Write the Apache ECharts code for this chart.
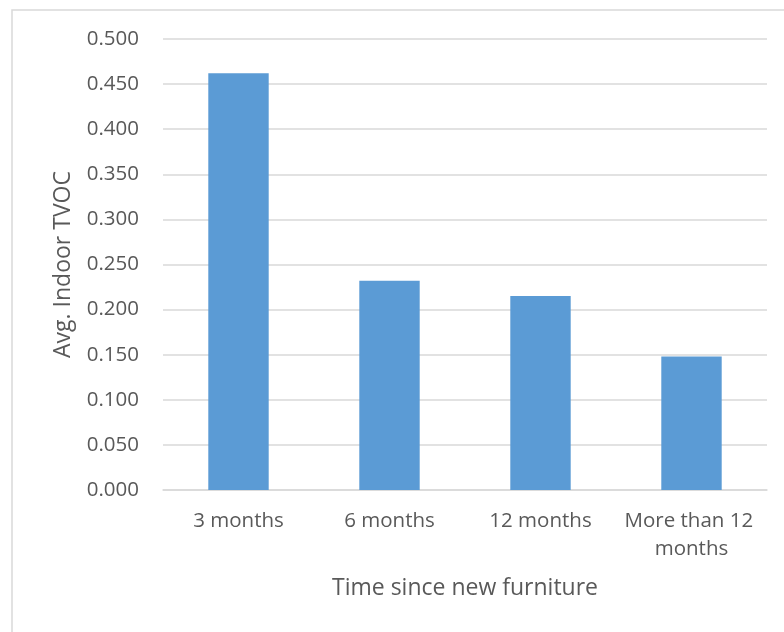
<!DOCTYPE html>
<html>
<head>
<meta charset="utf-8">
<script src="https://cdn.jsdelivr.net/npm/echarts@6/dist/echarts.min.js"></script>
<style>
  html, body { margin: 0; padding: 0; background: #fff; }
  #chart { width: 784px; height: 632px; }
</style>
</head>
<body>
<div id="chart"></div>
<script>
// data
const categories = ['3 months', '6 months', '12 months', 'More than 12 months'];
const tvocValues = [0.462, 0.232, 0.215, 0.148];
const yTicks = { min: 0, max: 0.5, interval: 0.05 };

const labelFont = '"Open Sans", "Liberation Sans", sans-serif';
const textColor = '#595959';
const gridColor = '#d9d9d9';

const chart = echarts.init(document.getElementById('chart'));

const option = {
  backgroundColor: '#fff',
  animation: false,
  grid: { left: 163, right: 17, top: 39, bottom: 142 },
  graphic: [
    {
      // outer chart frame, runs off the right and bottom edge
      type: 'rect',
      shape: { x: 12, y: 10, width: 820, height: 700 },
      style: { fill: 'none', stroke: gridColor, lineWidth: 1.5 }
    }
  ],
  xAxis: {
    type: 'category',
    data: categories,
    name: 'Time since new furniture',
    nameLocation: 'middle',
    nameGap: 87,
    nameTextStyle: { color: textColor, fontFamily: labelFont, fontSize: 23 },
    axisLine: { lineStyle: { color: gridColor, width: 1.5 } },
    axisTick: { show: false },
    axisLabel: {
      color: textColor,
      fontFamily: labelFont,
      fontSize: 20.5,
      margin: 17,
      lineHeight: 28,
      width: 140,
      overflow: 'break',
      interval: 0
    }
  },
  yAxis: {
    type: 'value',
    min: yTicks.min,
    max: yTicks.max,
    interval: yTicks.interval,
    name: 'Avg. Indoor TVOC',
    nameLocation: 'middle',
    nameGap: 88,
    nameTextStyle: { color: textColor, fontFamily: labelFont, fontSize: 23 },
    axisLine: { show: false },
    axisTick: { show: false },
    splitLine: { lineStyle: { color: gridColor, width: 1.5 } },
    axisLabel: {
      color: textColor,
      fontFamily: labelFont,
      fontSize: 20.5,
      margin: 24,
      formatter: v => v.toFixed(3)
    }
  },
  series: [
    {
      type: 'bar',
      data: tvocValues,
      barCategoryGap: '60%',
      itemStyle: { color: '#5b9bd5' }
    }
  ]
};

chart.setOption(option);
</script>
</body>
</html>
